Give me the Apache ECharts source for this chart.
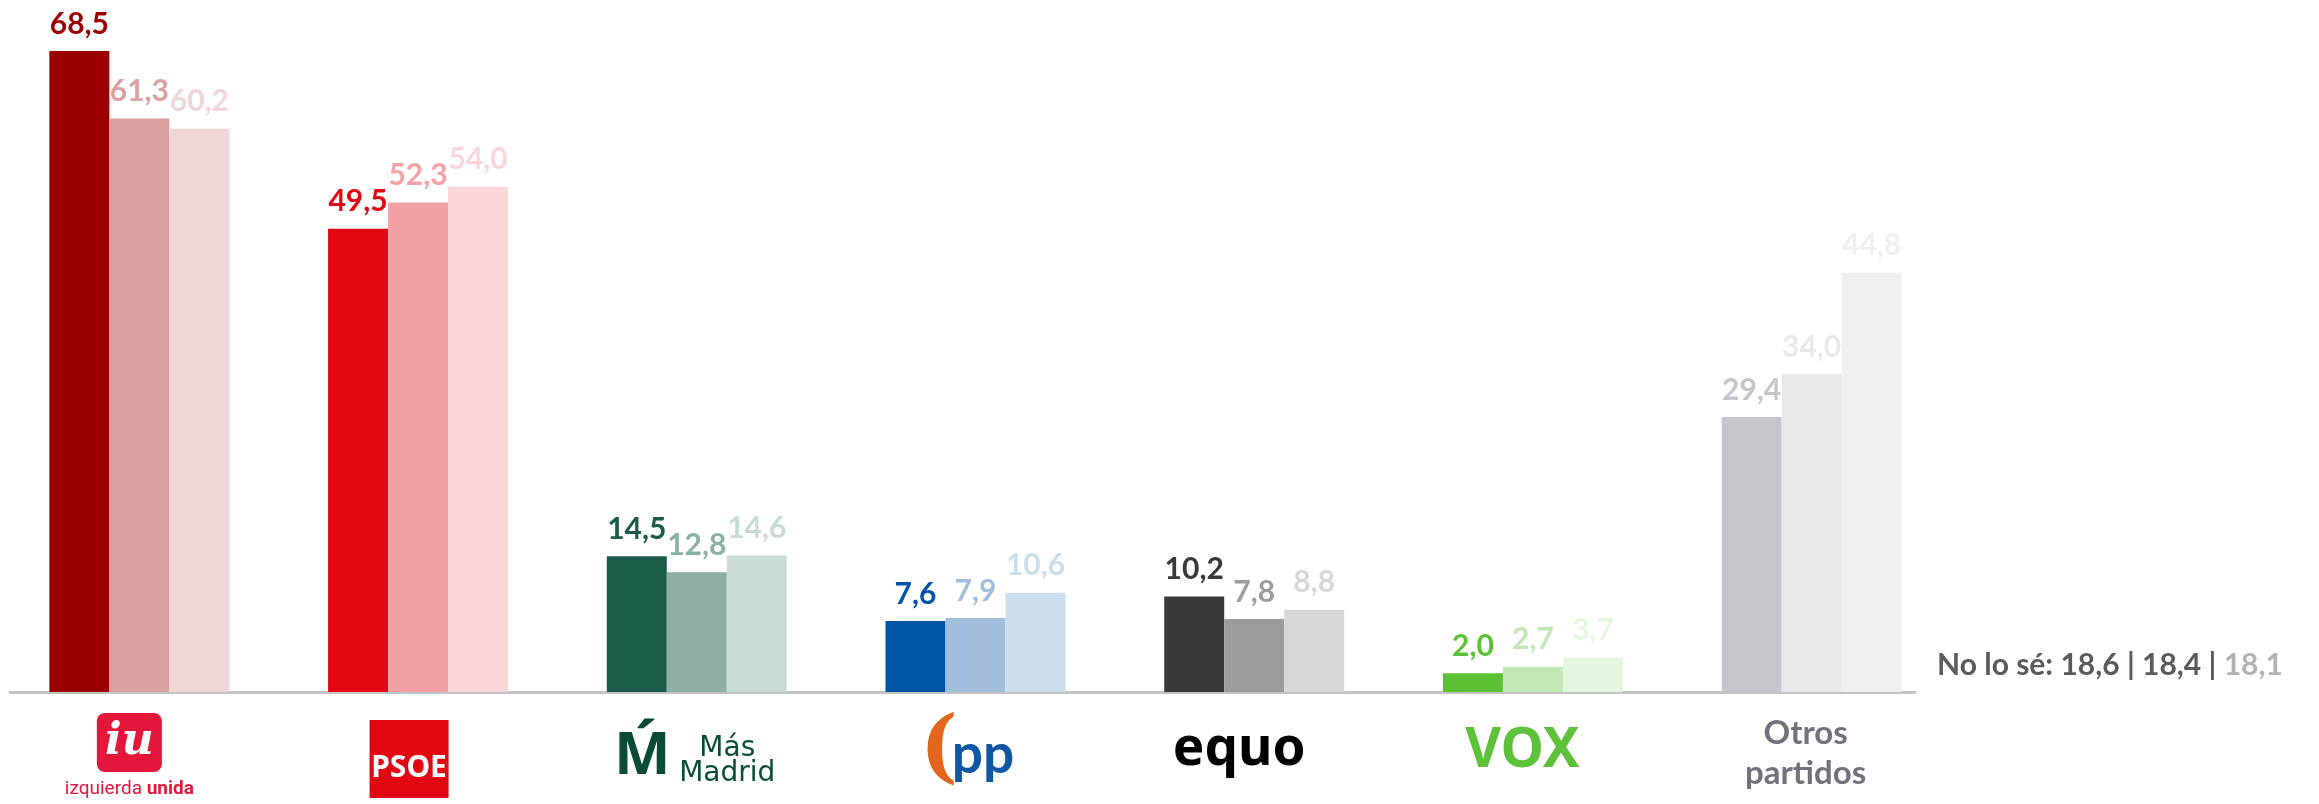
<!DOCTYPE html>
<html lang="es">
  <head>
    <meta charset="UTF-8" />
    <title>Intención de voto</title>
    <script src="https://cdn.jsdelivr.net/npm/echarts@6.0.0/dist/echarts.min.js"></script>
    <style>
      html, body { margin: 0; padding: 0; background: #fff; }
      #main { width: 2319px; height: 804px; }
    </style>
  </head>
  <body>
    <div id="main"></div>
    <script>
      // datos
      var categories = ['Izquierda Unida', 'PSOE', 'Más Madrid', 'PP', 'Equo', 'Vox', 'Otros partidos'];
      var wave1 = [68.5, 49.5, 14.5, 7.6, 10.2, 2.0, 29.4];
      var wave2 = [61.3, 52.3, 12.8, 7.9, 7.8, 2.7, 34.0];
      var wave3 = [60.2, 54.0, 14.6, 10.6, 8.8, 3.7, 44.8];
      var noLoSe = [18.6, 18.4, 18.1];

      var colors1 = ['#9b0000', '#e30613', '#1b5b4a', '#0055a6', '#383838', '#5dc136', '#c7c5cc'];
      var colors2 = ['#d8a0a0', '#f4a1a6', '#8cafa6', '#a1bfdc', '#9c9c9c', '#c3e7b5', '#e8e8eb'];
      var colors3 = ['#f0d6d7', '#fad6da', '#c9dbd7', '#cbdeec', '#d7d7d7', '#e5f6e0', '#efeff1'];

      function fmt(v) {
        return v.toFixed(1).replace('.', ',');
      }

      function makeData(values, colors) {
        return values.map(function (v, i) {
          return { value: v, itemStyle: { color: colors[i] }, label: { color: colors[i] } };
        });
      }

      function makeSeries(name, values, colors) {
        return {
          name: name,
          type: 'bar',
          barWidth: 60,
          barGap: '0%',
          data: makeData(values, colors),
          label: {
            show: true,
            position: 'top',
            distance: 12,
            fontFamily: 'Lato',
            fontWeight: 'bold',
            fontSize: 30,
            formatter: function (p) { return fmt(p.value); }
          }
        };
      }

      // logos aproximados con texto enriquecido
      var logoMain = {
        'Izquierda Unida': '{iuBox|iu}{w20| }\n{iuT|izquierda }{iuB|unida}{w20| }',
        'PSOE': '{sp7| }\n{psoe|PSOE}{w18| }',
        'Más Madrid': '{mmM|Ḿ}',
        'PP': '{w15| }{pp|pp}',
        'Equo': '{equo|equo}{w30| }',
        'Vox': '{vox|VOX}{w21| }',
        'Otros partidos': '{otros|Otros}{w12| }\n{otros|partidos}{w12| }'
      };
      var logoExtra = {
        'Más Madrid': '{sp24| }\n{mmT|Más}\n{mmT|Madrid}',
        'PP': '{ppArc|(}'
      };

      var richMain = {
        w12: { width: 12, align: 'center' },
        w15: { width: 15, align: 'center' },
        w18: { width: 18, align: 'center' },
        w20: { width: 20, align: 'center' },
        w21: { width: 21, align: 'center' },
        w30: { width: 30, align: 'center' },
        sp7: { fontSize: 1, lineHeight: 7, height: 7 },
        iuBox: {
          backgroundColor: '#e4173b', borderRadius: 8, color: '#fff',
          width: 65, height: 59, lineHeight: 59, align: 'center',
          fontFamily: 'DejaVu Serif', fontWeight: 'bold', fontStyle: 'italic', fontSize: 44
        },
        iuT: { color: '#e4173b', fontFamily: 'Roboto', fontSize: 19, lineHeight: 34, align: 'center' },
        iuB: { color: '#e4173b', fontFamily: 'Roboto', fontWeight: 'bold', fontSize: 19, lineHeight: 34, align: 'center' },
        psoe: {
          backgroundColor: '#e30613', color: '#fff', width: 79, height: 60, padding: [18, 0, 0, 0],
          align: 'center', fontFamily: 'Noto Sans', fontWeight: 'bold', fontSize: 30
        },
        mmM: {
          color: '#0b4c38', fontFamily: 'Noto Sans', fontWeight: 'bold', fontSize: 60,
          lineHeight: 88, padding: [0, 109, 0, 0]
        },
        pp: { color: '#0f57a5', fontFamily: 'Lato', fontWeight: 'bold', fontSize: 55, lineHeight: 84, align: 'center' },
        equo: {
          color: '#000', fontFamily: 'Noto Sans', fontWeight: 'bold',
          fontSize: 53, lineHeight: 74, align: 'center'
        },
        vox: {
          color: '#5ec13a', fontFamily: 'Noto Sans', fontWeight: 'bold',
          fontSize: 55, lineHeight: 76, align: 'center'
        },
        otros: { color: '#75707c', fontFamily: 'Lato', fontWeight: 'bold', fontSize: 33, lineHeight: 40, align: 'center' }
      };
      var richExtra = {
        sp24: { fontSize: 1, lineHeight: 24, height: 24 },
        mmT: { color: '#0b4c38', fontFamily: 'DejaVu Sans', fontSize: 28, lineHeight: 25, padding: [0, 0, 0, 61] },
        ppArc: {
          color: '#e2661c', fontFamily: 'DejaVu Serif', fontWeight: 'bold', fontSize: 80,
          lineHeight: 80, padding: [0, 73, 0, 0]
        }
      };

      var chart = echarts.init(document.getElementById('main'));
      var option = {
        animation: false,
        title: {
          left: 1937,
          top: 650,
          padding: 0,
          text: '{d|No lo sé: ' + fmt(noLoSe[0]) + ' | ' + fmt(noLoSe[1]) + ' | }{l|' + fmt(noLoSe[2]) + '}',
          textStyle: {
            rich: {
              d: { color: '#5b5b5b', fontFamily: 'Lato', fontWeight: 'bold', fontSize: 30 },
              l: { color: '#b2b2b2', fontFamily: 'Lato', fontWeight: 'bold', fontSize: 30 }
            }
          }
        },
        grid: [
          { left: -2, width: 1953, top: 37, height: 655 },
          { left: -2, width: 1953, top: 691, height: 1 },
          { left: 10, width: 1905, top: 691, height: 1 }
        ],
        xAxis: [
          {
            gridIndex: 0,
            type: 'category',
            data: categories,
            axisLine: { show: false },
            axisTick: { show: false },
            axisLabel: {
              interval: 0,
              margin: 21,
              formatter: function (v) { return logoMain[v]; },
              rich: richMain
            }
          },
          {
            gridIndex: 1,
            type: 'category',
            data: categories,
            axisLine: { show: false },
            axisTick: { show: false },
            axisLabel: {
              interval: 0,
              margin: 20,
              formatter: function (v) { return logoExtra[v] || ''; },
              rich: richExtra
            }
          },
          {
            gridIndex: 2,
            type: 'value',
            min: 0,
            max: 1,
            axisLine: { show: true, lineStyle: { color: '#c4c4c4', width: 3 } },
            axisTick: { show: false },
            axisLabel: { show: false },
            splitLine: { show: false }
          }
        ],
        yAxis: [
          { gridIndex: 0, type: 'value', min: 0, max: 70, show: false },
          { gridIndex: 1, type: 'value', show: false },
          { gridIndex: 2, type: 'value', show: false }
        ],
        series: [
          makeSeries('Oleada 1', wave1, colors1),
          makeSeries('Oleada 2', wave2, colors2),
          makeSeries('Oleada 3', wave3, colors3)
        ]
      };
      chart.setOption(option);
    </script>
  </body>
</html>
